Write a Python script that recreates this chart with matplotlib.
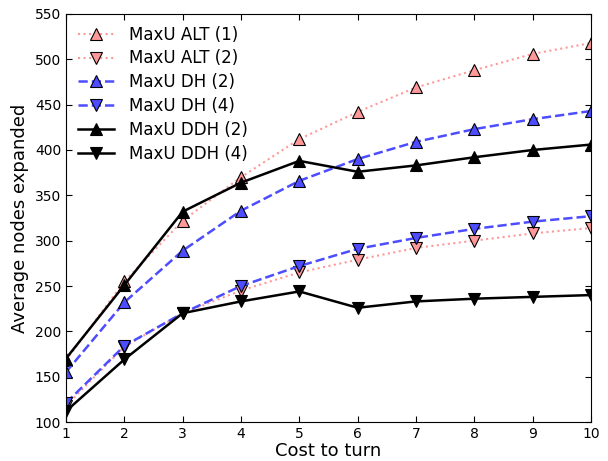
import matplotlib
matplotlib.use("Agg")
import matplotlib.pyplot as plt

x = [1, 2, 3, 4, 5, 6, 7, 8, 9, 10]
alt1 = [168, 255, 322, 370, 412, 442, 469, 488, 506, 518]
alt2 = [118, 183, 220, 245, 265, 279, 292, 300, 308, 314]
dh2 = [155, 232, 289, 333, 366, 390, 409, 423, 434, 443]
dh4 = [121, 184, 220, 250, 272, 291, 303, 313, 321, 327]
ddh2 = [170, 251, 332, 364, 388, 376, 383, 392, 400, 406]
ddh4 = [112, 169, 220, 233, 244, 226, 233, 236, 238, 240]
labels = ["MaxU ALT (1)", "MaxU ALT (2)", "MaxU DH (2)", "MaxU DH (4)",
          "MaxU DDH (2)", "MaxU DDH (4)"]

fig = plt.figure(figsize=(6.08, 4.61), dpi=100)
ax = fig.add_axes([66/608, 1-422/461, (591-66)/608, (422-14)/461])

pink = "#ff9999"
blue = "#4d4dff"
ms = 9
ax.plot(x, alt1, linestyle=":", color=pink, lw=1.5, marker="^", ms=ms, mfc=pink, mec="black", mew=0.8, label=labels[0])
ax.plot(x, alt2, linestyle=":", color=pink, lw=1.5, marker="v", ms=ms, mfc=pink, mec="black", mew=0.8, label=labels[1])
ax.plot(x, dh2, linestyle="--", color=blue, lw=1.8, marker="^", ms=ms, mfc=blue, mec="black", mew=0.8, label=labels[2])
ax.plot(x, dh4, linestyle="--", color=blue, lw=1.8, marker="v", ms=ms, mfc=blue, mec="black", mew=0.8, label=labels[3])
ax.plot(x, ddh2, linestyle="-", color="black", lw=1.8, marker="^", ms=ms, mfc="black", mec="black", mew=0.8, label=labels[4])
ax.plot(x, ddh4, linestyle="-", color="black", lw=1.8, marker="v", ms=ms, mfc="black", mec="black", mew=0.8, label=labels[5])

ax.set_xlim(1, 10)
ax.set_ylim(100, 550)
ax.set_xticks(x)
ax.set_yticks(range(100, 551, 50))
ax.tick_params(direction="in", top=True, right=True, labelsize=10, length=4)
ax.set_xlabel("Cost to turn", fontsize=13, labelpad=1)
ax.set_ylabel("Average nodes expanded", fontsize=13)
ax.legend(loc="upper left", frameon=False, fontsize=12, numpoints=1,
          handlelength=2.2, labelspacing=0.35, borderaxespad=0.3, handletextpad=0.9)

fig.savefig("out.png", dpi=100)
